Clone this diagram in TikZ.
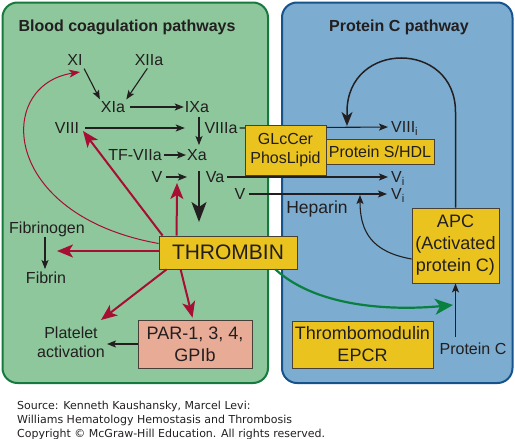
\documentclass[tikz,border=0pt]{standalone}
\usepackage{fontspec}
\setmainfont{Liberation Sans}
\newfontfamily\srcfont{DejaVu Sans}
\usetikzlibrary{arrows.meta}
\definecolor{gfill}{RGB}{141,199,155}
\definecolor{gline}{RGB}{22,122,62}
\definecolor{bfill}{RGB}{124,172,207}
\definecolor{bline}{RGB}{22,82,140}
\definecolor{yel}{RGB}{234,195,30}
\definecolor{salmon}{RGB}{231,171,150}
\definecolor{ink}{RGB}{35,31,32}
\definecolor{boxline}{RGB}{70,64,56}
\definecolor{rcol}{RGB}{168,14,52}
\definecolor{gcol}{RGB}{10,128,64}
\newcommand\fzLab{\fontsize{16}{19}\selectfont}
\newcommand\fzBig{\fontsize{18}{22}\selectfont}
\begin{document}
\begin{tikzpicture}[x=1pt,y=-1pt,
  lab/.style={font=\fzLab, inner sep=0pt, text height=11.5pt, text depth=0pt, text=ink},
  ttl/.style={font=\fzLab\bfseries, inner sep=0pt, text height=11.5pt, text depth=0pt, text=ink},
  src/.style={font=\srcfont\fontsize{11}{14}\selectfont, inner sep=0pt, text height=8pt, text depth=0pt, text=ink, anchor=west},
  box/.style={draw=boxline, line width=0.8pt, inner sep=0pt, align=center, text=ink},
  ybox/.style={box, fill=yel},
  arr/.style={draw=ink, line width=1.1pt, -{Stealth[length=9pt,width=7pt,inset=2pt]}},
  bigarr/.style={draw=ink, line width=2pt, -{Stealth[length=20pt,width=15pt,inset=5pt]}},
  looparr/.style={draw=ink, line width=1.5pt, -{Stealth[length=14pt,width=11pt,inset=4pt]}},
  rarr/.style={draw=rcol, line width=2pt, -{Stealth[length=16pt,width=13pt,inset=4pt]}},
  rthin/.style={draw=rcol, line width=1pt, -{Stealth[length=11pt,width=8pt,inset=3pt]}},
  garr/.style={draw=gcol, line width=2.2pt, -{Stealth[length=18pt,width=16pt,inset=5pt]}}
]
\useasboundingbox (0,0) rectangle (515,439);
% panels
\draw[fill=gfill, draw=gline, line width=2pt, rounded corners=15pt] (2.5,2.5) rectangle (268,383);
\draw[fill=bfill, draw=bline, line width=2pt, rounded corners=15pt] (282,2.5) rectangle (512.5,383);
\node[ttl] (t1) at (127,26) {Blood coagulation pathways};
\node[ttl] (t2) at (399,26) {Protein C pathway};

% labels
\node[lab] (XI) at (75,60) {XI};
\node[lab] (XIIa) at (149,60) {XIIa};
\node[lab] (XIa) at (113,107) {XIa};
\node[lab] (IXa) at (197,107) {IXa};
\node[lab] (VIII) at (67,128) {VIII};
\node[lab] (VIIIa) at (221,128) {VIIIa};
\node[lab] (TF) at (135,155) {TF-VIIa};
\node[lab] (Xa) at (197,155) {Xa};
\node[lab] (V1) at (157,177) {V};
\node[lab] (Va) at (215,177) {Va};
\node[lab] (V2) at (240,194) {V};
\node[lab, anchor=west] (VIIIi) at (391,127) {VIII\textsubscript{i}};
\node[lab, anchor=west] (Vi1) at (391,177) {V\textsubscript{i}};
\node[lab, anchor=west] (Vi2) at (391,194) {V\textsubscript{i}};
\node[lab, font=\fontsize{17.5}{20}\selectfont, text height=12.5pt] (hep) at (317,207) {Heparin};
\node[lab] (fgen) at (47,228) {Fibrinogen};
\node[lab] (fib) at (46,278) {Fibrin};
\node[font=\fzLab, inner sep=0pt, align=center, text=ink] (plt) at (71,342) {Platelet\\activation};
\node[lab] (pc) at (473,349) {Protein C};

% lines passing behind GLcCer box
\draw[arr, shorten <=2pt, shorten >=3pt] (VIIIa.east) -- (VIIIi.west);
\draw[arr, shorten <=3pt, shorten >=3pt] (Va.east) -- (Vi1.west);
\draw[arr, shorten <=3pt, shorten >=4pt] (V2.east) -- (Vi2.west);

% boxes
\node[ybox, minimum width=81pt, minimum height=50pt, font=\fzLab] (glc) at (285.5,150) {GLcCer\\PhosLipid};
\node[ybox, minimum width=108pt, minimum height=25pt, font=\fzLab] (ps) at (380,151.5) {Protein S/HDL};
\node[ybox, minimum width=138pt, minimum height=33pt, font=\fontsize{21}{24}\selectfont] (thr) at (228,252.5) {THROMBIN};
\node[ybox, minimum width=87pt, minimum height=75pt, font=\fzBig] (apc) at (455.5,245.5) {APC\\(Activated\\protein C)};
\node[ybox, minimum width=141pt, minimum height=47pt, font=\fzBig] (tm) at (362.5,344.5) {Thrombomodulin\\EPCR};
\node[box, fill=salmon, minimum width=114pt, minimum height=48pt, font=\fzBig] (par) at (195,344) {PAR-1, 3, 4,\\GPIb};

% coordinates for free ends
\coordinate (loopend) at (347,126);
\coordinate (hepend) at (360,195);
\coordinate (gend) at (453,305);
\coordinate (fibtip) at (57,251);
\coordinate (plttip) at (101,320);
\coordinate (uptip) at (177,183);
\coordinate (viiitip) at (83,131);
\coordinate (xitip) at (80,72);
\coordinate (thrtip) at (199,222);

% black cascade arrows
\draw[arr, shorten <=3pt, shorten >=2pt] (XI.south east) -- (XIa.north west);
\draw[arr, shorten <=3pt, shorten >=2pt] (XIIa.south) -- (XIa.north east);
\draw[arr, shorten <=5pt, shorten >=1pt] (XIa.east) -- (IXa.west);
\draw[arr, shorten <=6pt] (VIII.east) -- (IXa.west |- VIII.east);
\draw[arr, shorten <=4pt, shorten >=4pt] ([xshift=2pt]IXa.south) -- ([xshift=2pt]Xa.north);
\draw[arr, shorten <=2pt, shorten >=1pt] (TF.east) -- (Xa.west);
\draw[arr, shorten <=3pt] (V1.east) -- (Xa.west |- V1.east);
\draw[bigarr] ([xshift=2pt]Xa.south |- Va.north) -- (thrtip);
\draw[arr, shorten <=3pt, shorten >=3pt] (fgen.south -| 45,0) -- (fib.north -| 45,0);
\draw[arr, shorten >=2pt] (par.west) -- (par.west -| plt.east);

% protein C pathway
\draw[looparr] (apc.north) -- (455.5,112) .. controls (455.5,40) and (347,40) .. (347,112) -- (loopend);
\draw[arr] ([yshift=-13.5pt]apc.west) .. controls (372,252) and (360,232) .. (hepend);
\draw[arr, shorten <=6pt] (pc.north -| apc.south) -- (apc.south);
\draw[garr] ([xshift=-22pt]thr.south east) .. controls (320,310) and (400,310) .. (gend);

% red thrombin arrows
\draw[rarr] (thr.west |- fibtip) -- (fibtip);
\draw[rarr] ([xshift=8pt]thr.south west) -- (plttip);
\draw[rarr, shorten >=2pt] ([xshift=22pt]thr.south west) -- ([xshift=-2pt]par.north);
\draw[rarr] ([xshift=18pt]thr.north west) -- (uptip);
\draw[rarr] ([xshift=4pt]thr.north west) -- (viiitip);
\draw[rthin] ([yshift=9pt]thr.west) .. controls (0,215) and (-5,85) .. (xitip);

% source
\node[src] (s1) at (17,405) {Source: Kenneth Kaushansky, Marcel Levi:};
\node[src] (s2) at (17,419) {Williams Hematology Hemostasis and Thrombosis};
\node[src] (s3) at (17,433) {Copyright © McGraw-Hill Education. All rights reserved.};
\end{tikzpicture}
\end{document}
